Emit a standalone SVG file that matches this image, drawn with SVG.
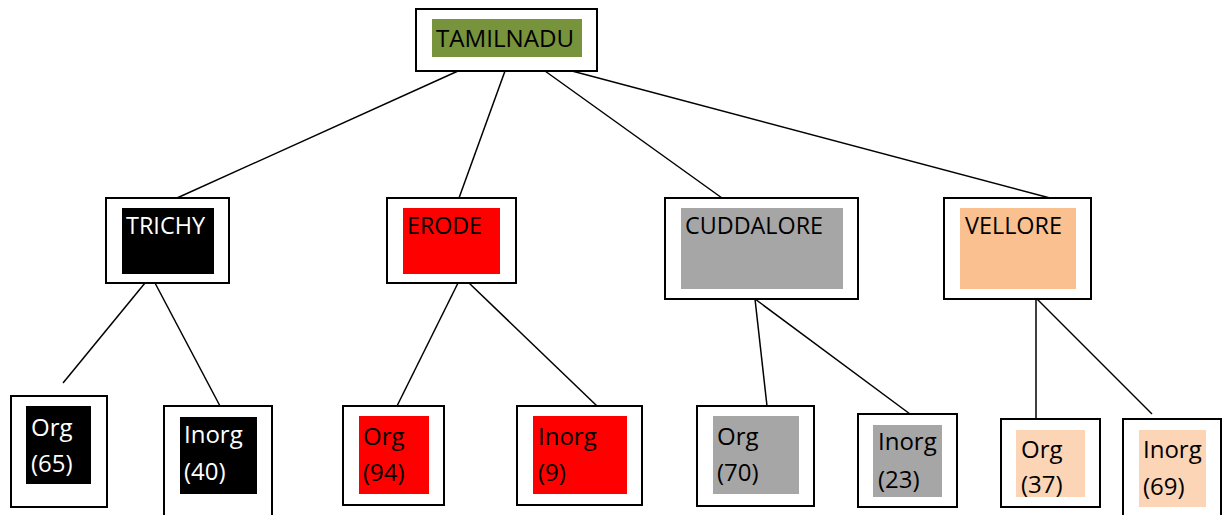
<svg xmlns="http://www.w3.org/2000/svg" width="1229" height="515" viewBox="0 0 1229 515">
<style>
.box{fill:#fff;stroke:#000;stroke-width:2}
.lbl{font-family:"Open Sans","Liberation Sans",sans-serif;font-size:24px;fill:#000}
.w{fill:#fff}
.con line{stroke:#000;stroke-width:1.5}
</style>
<defs>
<clipPath id="c37"><rect x="1016" y="430" width="69" height="67"/></clipPath>
</defs>
<rect width="1229" height="515" fill="#fff"/>
<g class="con">
<line x1="458" y1="71" x2="177" y2="198"/>
<line x1="505" y1="71" x2="459" y2="198"/>
<line x1="545" y1="71" x2="722" y2="198"/>
<line x1="572" y1="71" x2="1050" y2="198"/>
<line x1="145" y1="283" x2="63" y2="383"/>
<line x1="155" y1="283" x2="220" y2="406"/>
<line x1="458" y1="283" x2="397" y2="406"/>
<line x1="469" y1="283" x2="597" y2="406"/>
<line x1="755" y1="299" x2="767" y2="406"/>
<line x1="755" y1="299" x2="910" y2="414"/>
<line x1="1036" y1="299" x2="1036" y2="419"/>
<line x1="1037" y1="299" x2="1152" y2="414"/>
</g>
<g id="tamilnadu">
<rect class="box" x="416" y="9" width="181" height="62"/>
<rect x="432" y="19" width="150" height="38" fill="#77933C"/>
<text class="lbl" x="436" y="47" textLength="138" lengthAdjust="spacingAndGlyphs">TAMILNADU</text>
</g>
<g id="trichy">
<rect class="box" x="106" y="198" width="123" height="85"/>
<rect x="122" y="208" width="92" height="66" fill="#000"/>
<text class="lbl w" x="126" y="234" textLength="79" lengthAdjust="spacingAndGlyphs">TRICHY</text>
</g>
<g id="erode">
<rect class="box" x="387" y="198" width="129" height="85"/>
<rect x="403" y="208" width="97" height="66" fill="#FF0000"/>
<text class="lbl" x="407" y="234" textLength="75" lengthAdjust="spacingAndGlyphs">ERODE</text>
</g>
<g id="cuddalore">
<rect class="box" x="665" y="198" width="193" height="101"/>
<rect x="681" y="208" width="162" height="81" fill="#A6A6A6"/>
<text class="lbl" x="685" y="234" textLength="138" lengthAdjust="spacingAndGlyphs">CUDDALORE</text>
</g>
<g id="vellore">
<rect class="box" x="944" y="198" width="147" height="101"/>
<rect x="960" y="208" width="116" height="81" fill="#FAC090"/>
<text class="lbl" x="965" y="234" textLength="97" lengthAdjust="spacingAndGlyphs">VELLORE</text>
</g>
<g id="trichy-org">
<rect class="box" x="11" y="396" width="96" height="111"/>
<rect x="26" y="406" width="65" height="78" fill="#000"/>
<text class="lbl w" x="31" y="436">Org</text>
<text class="lbl w" x="31" y="472">(65)</text>
</g>
<g id="trichy-inorg">
<rect class="box" x="164" y="406" width="108" height="124"/>
<rect x="180" y="417" width="77" height="77" fill="#000"/>
<text class="lbl w" x="184" y="443">Inorg</text>
<text class="lbl w" x="184" y="480">(40)</text>
</g>
<g id="erode-org">
<rect class="box" x="343" y="406" width="101" height="99"/>
<rect x="359" y="416" width="70" height="78" fill="#FF0000"/>
<text class="lbl" x="363" y="445">Org</text>
<text class="lbl" x="363" y="481">(94)</text>
</g>
<g id="erode-inorg">
<rect class="box" x="517" y="406" width="125" height="99"/>
<rect x="533" y="416" width="94" height="78" fill="#FF0000"/>
<text class="lbl" x="538" y="445">Inorg</text>
<text class="lbl" x="538" y="481">(9)</text>
</g>
<g id="cuddalore-org">
<rect class="box" x="697" y="406" width="117" height="100"/>
<rect x="713" y="416" width="86" height="78" fill="#A6A6A6"/>
<text class="lbl" x="717" y="445">Org</text>
<text class="lbl" x="717" y="481">(70)</text>
</g>
<g id="cuddalore-inorg">
<rect class="box" x="858" y="414" width="99" height="93"/>
<rect x="873" y="425" width="69" height="72" fill="#A6A6A6"/>
<text class="lbl" x="878" y="450">Inorg</text>
<text class="lbl" x="878" y="488">(23)</text>
</g>
<g id="vellore-org">
<rect class="box" x="1001" y="419" width="99" height="88"/>
<rect x="1016" y="430" width="69" height="67" fill="#FBD5B5"/>
<text class="lbl" x="1021" y="458">Org</text>
<text class="lbl" x="1021" y="493" clip-path="url(#c37)">(37)</text>
</g>
<g id="vellore-inorg">
<rect class="box" x="1123" y="419" width="98" height="110"/>
<rect x="1139" y="430" width="67" height="77" fill="#FBD5B5"/>
<text class="lbl" x="1143" y="458">Inorg</text>
<text class="lbl" x="1143" y="495">(69)</text>
</g>
</svg>
